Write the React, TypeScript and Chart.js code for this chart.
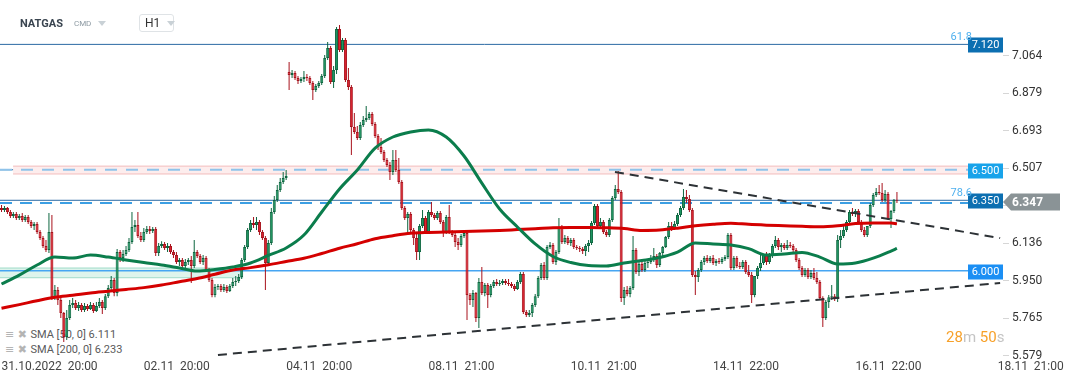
import React, { useEffect, useRef } from 'react';
import { Chart, registerables } from 'chart.js';

Chart.register(...registerables);

// ---- Hourly candles (NATGAS, H1) ----
const opens = [
  6.311, 6.301, 6.311, 6.291, 6.271, 6.281, 6.261, 6.271, 6.251, 6.266,
  6.242, 6.222, 6.232, 6.192, 6.162, 6.123, 6.103, 6.192, 5.870, 5.905,
  5.856, 5.791, 5.673, 5.767, 5.831, 5.841, 5.816, 5.831, 5.806, 5.826,
  5.811, 5.831, 5.801, 5.826, 5.846, 5.816, 5.875, 5.915, 5.955, 5.890,
  6.093, 6.063, 6.083, 6.103, 6.143, 6.217, 6.227, 6.172, 6.152, 6.192,
  6.207, 6.197, 6.207, 6.088, 6.123, 6.133, 6.113, 6.123, 6.093, 6.078,
  6.044, 6.054, 6.024, 6.044, 6.054, 6.024, 6.093, 6.073, 6.044, 6.063,
  6.004, 5.955, 5.880, 5.920, 5.925, 5.905, 5.920, 5.900, 5.925, 5.945,
  5.950, 5.970, 6.054, 6.118, 6.202, 6.237, 6.227, 6.242, 6.192, 6.162,
  6.039, 6.138, 6.291, 6.350, 6.400, 6.439, 6.459, 6.983, 6.969, 6.978,
  6.954, 6.939, 6.949, 6.959, 6.954, 6.929, 6.894, 6.914, 6.929, 6.964,
  7.053, 7.102, 6.934, 6.993, 7.196, 7.092, 7.142, 6.944, 6.909, 6.711,
  6.687, 6.657, 6.721, 6.746, 6.756, 6.776, 6.726, 6.667, 6.612, 6.588,
  6.548, 6.523, 6.489, 6.548, 6.499, 6.439, 6.311, 6.261, 6.281, 6.202,
  6.162, 6.093, 6.222, 6.261, 6.192, 6.291, 6.276, 6.261, 6.286, 6.242,
  6.192, 6.266, 6.192, 6.177, 6.143, 6.128, 6.172, 6.187, 5.880, 5.856,
  5.890, 5.767, 5.945, 5.890, 5.930, 5.880, 5.925, 5.945, 5.935, 5.940,
  5.950, 5.940, 5.935, 5.925, 5.910, 5.945, 5.984, 5.796, 5.782, 5.791,
  5.831, 5.875, 5.965, 6.029, 5.965, 6.118, 6.128, 6.044, 6.093, 6.217,
  6.143, 6.162, 6.138, 6.152, 6.118, 6.113, 6.108, 6.098, 6.123, 6.138,
  6.237, 6.321, 6.222, 6.242, 6.192, 6.177, 6.251, 6.360, 6.405, 6.390,
  5.866, 5.905, 5.885, 5.915, 6.103, 5.994, 6.034, 6.004, 6.039, 6.044,
  6.063, 6.073, 6.029, 6.088, 6.118, 6.167, 6.222, 6.212, 6.232, 6.276,
  6.311, 6.365, 6.355, 6.301, 5.979, 5.970, 6.004, 6.044, 6.063, 6.049,
  6.063, 6.039, 6.049, 6.044, 6.058, 6.068, 6.177, 6.014, 6.063, 6.024,
  6.019, 6.044, 5.994, 5.979, 5.880, 5.974, 6.014, 6.039, 6.083, 6.044,
  6.073, 6.123, 6.152, 6.118, 6.128, 6.113, 6.128, 6.123, 6.103, 6.054,
  6.014, 5.979, 6.004, 5.970, 5.989, 5.965, 5.945, 5.866, 5.767, 5.846,
  5.870, 5.875, 5.861, 6.152, 6.172, 6.202, 6.242, 6.291, 6.281, 6.296,
  6.242, 6.202, 6.177, 6.222, 6.326, 6.375, 6.390, 6.385, 6.350, 6.380,
  6.256, 6.296, 6.352,
];
const highs = [
  6.326, 6.321, 6.316, 6.301, 6.291, 6.291, 6.281, 6.286, 6.276, 6.276,
  6.251, 6.242, 6.242, 6.202, 6.172, 6.152, 6.286, 6.276, 5.930, 5.920,
  5.866, 5.796, 5.806, 5.856, 5.866, 5.856, 5.846, 5.841, 5.841, 5.836,
  5.846, 5.841, 5.846, 5.866, 5.856, 5.885, 5.930, 5.974, 5.965, 6.108,
  6.103, 6.103, 6.123, 6.162, 6.291, 6.251, 6.291, 6.192, 6.212, 6.222,
  6.222, 6.217, 6.217, 6.138, 6.147, 6.143, 6.138, 6.133, 6.103, 6.093,
  6.063, 6.063, 6.058, 6.063, 6.073, 6.152, 6.103, 6.083, 6.078, 6.073,
  6.014, 5.965, 5.935, 5.935, 5.935, 5.935, 5.930, 5.935, 5.965, 5.974,
  5.984, 6.063, 6.128, 6.212, 6.251, 6.266, 6.266, 6.251, 6.202, 6.172,
  6.152, 6.311, 6.370, 6.424, 6.459, 6.489, 6.499, 7.033, 6.993, 6.988,
  6.964, 6.959, 6.988, 6.973, 6.964, 6.939, 6.924, 6.939, 6.973, 7.067,
  7.132, 7.112, 7.013, 7.206, 7.216, 7.152, 7.152, 7.003, 6.919, 6.781,
  6.716, 6.736, 6.766, 6.815, 6.786, 6.786, 6.736, 6.677, 6.657, 6.598,
  6.558, 6.538, 6.598, 6.598, 6.558, 6.449, 6.321, 6.291, 6.291, 6.212,
  6.182, 6.232, 6.301, 6.271, 6.301, 6.340, 6.286, 6.296, 6.296, 6.251,
  6.276, 6.326, 6.202, 6.187, 6.162, 6.182, 6.197, 6.202, 5.890, 5.905,
  5.895, 5.965, 6.019, 5.940, 5.940, 5.935, 5.955, 5.960, 5.955, 5.960,
  5.960, 5.960, 5.945, 5.935, 5.955, 5.994, 5.994, 5.806, 5.806, 5.841,
  5.885, 5.974, 6.039, 6.044, 6.128, 6.143, 6.138, 6.103, 6.261, 6.227,
  6.177, 6.172, 6.162, 6.162, 6.128, 6.123, 6.118, 6.133, 6.152, 6.246,
  6.330, 6.330, 6.261, 6.251, 6.202, 6.261, 6.370, 6.424, 6.494, 6.400,
  5.920, 5.925, 5.925, 6.172, 6.113, 6.044, 6.044, 6.054, 6.058, 6.078,
  6.113, 6.083, 6.093, 6.123, 6.172, 6.242, 6.242, 6.246, 6.286, 6.321,
  6.405, 6.400, 6.375, 6.311, 5.999, 6.014, 6.054, 6.073, 6.078, 6.073,
  6.078, 6.058, 6.063, 6.068, 6.078, 6.187, 6.187, 6.073, 6.073, 6.044,
  6.054, 6.054, 6.029, 5.994, 5.974, 6.024, 6.088, 6.083, 6.093, 6.088,
  6.133, 6.172, 6.162, 6.138, 6.138, 6.152, 6.143, 6.133, 6.113, 6.063,
  6.024, 6.014, 6.014, 6.004, 6.014, 5.994, 5.955, 5.875, 5.856, 5.880,
  5.930, 5.885, 6.177, 6.202, 6.222, 6.251, 6.301, 6.311, 6.306, 6.306,
  6.251, 6.217, 6.222, 6.335, 6.385, 6.410, 6.424, 6.434, 6.400, 6.390,
  6.301, 6.355, 6.390,
];
const lows = [
  6.291, 6.291, 6.281, 6.261, 6.261, 6.251, 6.251, 6.242, 6.242, 6.232,
  6.212, 6.202, 6.182, 6.152, 6.113, 6.093, 6.088, 5.856, 5.856, 5.831,
  5.767, 5.648, 5.658, 5.757, 5.816, 5.806, 5.801, 5.796, 5.796, 5.801,
  5.806, 5.791, 5.796, 5.816, 5.786, 5.806, 5.866, 5.905, 5.875, 5.875,
  6.044, 6.044, 6.073, 6.093, 6.133, 6.192, 6.162, 6.143, 6.143, 6.182,
  6.182, 6.187, 6.073, 6.073, 6.113, 6.103, 6.093, 6.083, 6.063, 6.034,
  6.024, 6.014, 6.014, 6.029, 5.940, 6.014, 6.063, 6.034, 6.029, 5.994,
  5.945, 5.870, 5.870, 5.905, 5.895, 5.895, 5.890, 5.895, 5.915, 5.925,
  5.940, 5.960, 6.044, 6.108, 6.192, 6.212, 6.202, 6.177, 6.152, 5.905,
  6.024, 6.128, 6.281, 6.340, 6.390, 6.429, 6.449, 6.894, 6.954, 6.944,
  6.924, 6.929, 6.934, 6.939, 6.919, 6.845, 6.884, 6.904, 6.919, 6.954,
  7.043, 6.924, 6.904, 6.973, 7.082, 7.082, 6.934, 6.894, 6.573, 6.677,
  6.647, 6.647, 6.711, 6.736, 6.746, 6.716, 6.657, 6.598, 6.578, 6.538,
  6.514, 6.449, 6.474, 6.489, 6.429, 6.301, 6.251, 6.187, 6.192, 6.128,
  6.054, 6.054, 6.212, 6.182, 6.182, 6.266, 6.251, 6.251, 6.232, 6.167,
  6.182, 6.182, 6.167, 6.118, 6.103, 6.118, 6.162, 5.757, 5.831, 5.821,
  5.747, 5.717, 5.880, 5.875, 5.816, 5.870, 5.915, 5.925, 5.925, 5.930,
  5.930, 5.925, 5.915, 5.900, 5.905, 5.935, 5.786, 5.772, 5.772, 5.772,
  5.821, 5.866, 5.955, 5.955, 5.955, 6.108, 6.034, 6.029, 6.083, 6.133,
  6.133, 6.128, 6.123, 6.108, 6.103, 6.093, 6.083, 6.073, 6.093, 6.128,
  6.227, 6.212, 6.212, 6.182, 6.167, 6.167, 6.242, 6.350, 6.380, 5.846,
  5.831, 5.875, 5.870, 5.905, 5.984, 5.974, 5.994, 5.994, 6.014, 6.034,
  6.044, 6.014, 6.019, 6.063, 6.113, 6.157, 6.197, 6.202, 6.222, 6.266,
  6.301, 6.335, 6.291, 5.970, 5.880, 5.945, 5.994, 6.029, 6.039, 6.039,
  6.029, 6.024, 6.034, 6.034, 6.049, 6.058, 6.004, 6.004, 6.014, 6.009,
  6.009, 5.984, 5.970, 5.841, 5.870, 5.960, 5.999, 6.029, 6.029, 6.034,
  6.063, 6.113, 6.103, 6.093, 6.103, 6.103, 6.113, 6.093, 6.044, 6.004,
  5.970, 5.970, 5.960, 5.960, 5.955, 5.935, 5.856, 5.722, 5.757, 5.816,
  5.856, 5.851, 5.846, 6.113, 6.162, 6.192, 6.232, 6.271, 6.266, 6.232,
  6.192, 6.167, 6.167, 6.212, 6.316, 6.365, 6.375, 6.340, 6.340, 6.251,
  6.212, 6.286, 6.335,
];
const closes = [
  6.301, 6.311, 6.291, 6.271, 6.281, 6.261, 6.271, 6.251, 6.266, 6.242,
  6.222, 6.232, 6.192, 6.162, 6.123, 6.103, 6.192, 5.870, 5.905, 5.856,
  5.791, 5.673, 5.767, 5.831, 5.841, 5.816, 5.831, 5.806, 5.826, 5.811,
  5.831, 5.801, 5.826, 5.846, 5.816, 5.875, 5.915, 5.955, 5.890, 6.093,
  6.063, 6.083, 6.103, 6.143, 6.217, 6.227, 6.172, 6.152, 6.192, 6.207,
  6.197, 6.207, 6.088, 6.123, 6.133, 6.113, 6.123, 6.093, 6.078, 6.044,
  6.054, 6.024, 6.044, 6.054, 6.024, 6.093, 6.073, 6.044, 6.063, 6.004,
  5.955, 5.880, 5.920, 5.925, 5.905, 5.920, 5.900, 5.925, 5.945, 5.950,
  5.970, 6.054, 6.118, 6.202, 6.237, 6.227, 6.242, 6.192, 6.162, 6.039,
  6.138, 6.291, 6.350, 6.400, 6.439, 6.459, 6.469, 6.969, 6.978, 6.954,
  6.939, 6.949, 6.959, 6.954, 6.929, 6.894, 6.914, 6.929, 6.964, 7.053,
  7.102, 6.934, 6.993, 7.196, 7.092, 7.142, 6.944, 6.909, 6.711, 6.687,
  6.657, 6.721, 6.746, 6.756, 6.776, 6.726, 6.667, 6.612, 6.588, 6.548,
  6.523, 6.489, 6.548, 6.499, 6.439, 6.311, 6.261, 6.281, 6.202, 6.162,
  6.093, 6.222, 6.261, 6.192, 6.291, 6.276, 6.261, 6.286, 6.242, 6.192,
  6.266, 6.192, 6.177, 6.143, 6.128, 6.172, 6.187, 5.880, 5.856, 5.890,
  5.767, 5.945, 5.890, 5.930, 5.880, 5.925, 5.945, 5.935, 5.940, 5.950,
  5.940, 5.935, 5.925, 5.910, 5.945, 5.984, 5.796, 5.782, 5.791, 5.831,
  5.875, 5.965, 6.029, 5.965, 6.118, 6.128, 6.044, 6.093, 6.217, 6.143,
  6.162, 6.138, 6.152, 6.118, 6.113, 6.108, 6.098, 6.123, 6.138, 6.237,
  6.321, 6.222, 6.242, 6.192, 6.177, 6.251, 6.360, 6.405, 6.390, 5.866,
  5.905, 5.885, 5.915, 6.103, 5.994, 6.034, 6.004, 6.039, 6.044, 6.063,
  6.073, 6.029, 6.088, 6.118, 6.167, 6.222, 6.212, 6.232, 6.276, 6.311,
  6.365, 6.355, 6.301, 5.979, 5.970, 6.004, 6.044, 6.063, 6.049, 6.063,
  6.039, 6.049, 6.044, 6.058, 6.068, 6.177, 6.014, 6.063, 6.024, 6.019,
  6.044, 5.994, 5.979, 5.880, 5.974, 6.014, 6.039, 6.083, 6.044, 6.073,
  6.123, 6.152, 6.118, 6.128, 6.113, 6.128, 6.123, 6.103, 6.054, 6.014,
  5.979, 6.004, 5.970, 5.989, 5.965, 5.945, 5.866, 5.767, 5.846, 5.870,
  5.875, 5.861, 6.152, 6.172, 6.202, 6.242, 6.291, 6.281, 6.296, 6.242,
  6.202, 6.177, 6.222, 6.326, 6.375, 6.390, 6.385, 6.350, 6.380, 6.256,
  6.296, 6.352, 6.347,
];

// ---- Moving averages (sampled every 6 candles) ----
const smaIdx = [
  0, 6, 12, 18, 24, 30, 36, 42, 48, 54, 60, 66, 72, 78, 84, 90, 96, 102, 108, 114,
  120, 126, 132, 138, 144, 150, 156, 162, 168, 174, 180, 186, 192, 198, 204, 210,
  216, 222, 228, 234, 240, 246, 252, 258, 264, 270, 276, 282, 288, 294, 300, 302,
];
const sma50 = [
  5.935, 5.979, 6.029, 6.068, 6.063, 6.078, 6.068, 6.054, 6.041, 6.029,
  6.014, 5.999, 6.007, 6.019, 6.039, 6.076, 6.113, 6.177, 6.291, 6.405,
  6.499, 6.607, 6.662, 6.687, 6.697, 6.662, 6.568, 6.434, 6.306, 6.217,
  6.133, 6.071, 6.041, 6.026, 6.024, 6.039, 6.051, 6.066, 6.093, 6.138,
  6.133, 6.128, 6.110, 6.078, 6.083, 6.091, 6.068, 6.034, 6.039, 6.063,
  6.098, 6.111,
];
const sma200 = [
  5.815, 5.833, 5.852, 5.869, 5.879, 5.890, 5.899, 5.908, 5.917, 5.930,
  5.946, 5.962, 5.983, 6.004, 6.016, 6.030, 6.046, 6.062, 6.086, 6.112,
  6.134, 6.159, 6.174, 6.186, 6.190, 6.192, 6.195, 6.197, 6.200, 6.204,
  6.208, 6.213, 6.215, 6.215, 6.213, 6.209, 6.200, 6.202, 6.211, 6.223,
  6.231, 6.236, 6.230, 6.226, 6.223, 6.220, 6.218, 6.223, 6.234, 6.237,
  6.237, 6.233,
];

// ---- Axes ----
const xTickIdx = [0, 48, 96, 144, 192, 240, 288, 336];
const xTickLabels = [
  '31.10.2022  20:00', '02.11  20:00', '04.11  20:00', '08.11  21:00',
  '10.11  21:00', '14.11  22:00', '16.11  22:00', '18.11  21:00',
];
const yTickValues = [5.579, 5.765, 5.950, 6.136, 6.321, 6.507, 6.693, 6.879, 7.064];

// ---- Drawing objects (price levels, zones, trend lines) ----
const levelValues = [7.12, 6.5, 6.35, 6.0];
const fibTexts = ['61.8', '', '78.6', ''];
const resistZone = [6.479, 6.518];
const supportZone = [5.966, 6.014];
const upperTrend = [[206.9, 6.489], [336.8, 6.162]];
const lowerTrend = [[73.0, 5.584], [336.8, 5.940]];
const currentPrice = closes[closes.length - 1];

const X_MIN = -0.506;
const X_MAX = 337.77;
const LEVEL_END = 326.3;

const hline = (y: number, x0: number, x1: number) => [{ x: x0, y }, { x: x1, y }];

const labelPlugin = {
  id: 'levelLabels',
  afterDraw(chart: any) {
    const { ctx, chartArea, scales } = chart;
    const y = scales.y;
    const right = chartArea.right;
    const boxColors = ['#0c6fb1', '#18a3ea', '#0c6fb1', '#1b8ff4'];
    ctx.save();
    levelValues.forEach((v, i) => {
      const py = Math.round(y.getPixelForValue(v)) + 1;
      ctx.fillStyle = boxColors[i];
      ctx.fillRect(right - 35, py - 7.5, 35, 15);
      ctx.fillStyle = '#ffffff';
      ctx.font = '11px Roboto';
      ctx.textAlign = 'center';
      ctx.textBaseline = 'middle';
      ctx.fillText(v.toFixed(3), right - 17.5, py + 0.5);
      if (fibTexts[i]) {
        ctx.fillStyle = '#4fb0ee';
        ctx.textAlign = 'right';
        ctx.textBaseline = 'alphabetic';
        ctx.fillText(fibTexts[i], right - 31, py - 5);
      }
    });
    const pp = Math.round(y.getPixelForValue(currentPrice)) + 1;
    ctx.fillStyle = '#8a9396';
    ctx.beginPath();
    ctx.moveTo(right, pp);
    ctx.lineTo(right + 8, pp - 8.5);
    ctx.lineTo(right + 57, pp - 8.5);
    ctx.lineTo(right + 57, pp + 8.5);
    ctx.lineTo(right + 8, pp + 8.5);
    ctx.closePath();
    ctx.fill();
    ctx.fillStyle = '#ffffff';
    ctx.font = 'bold 12px Roboto';
    ctx.textAlign = 'left';
    ctx.textBaseline = 'middle';
    ctx.fillText(currentPrice.toFixed(3), right + 9, pp + 0.5);
    ctx.restore();
  },
};

export default function App() {
  const ref = useRef<HTMLCanvasElement | null>(null);

  useEffect(() => {
    document.body.style.margin = '0';
    const canvas = ref.current;
    if (!canvas) return;

    const up = closes.map((c, i) => c >= opens[i]);
    const bodyFill = up.map((u) => (u ? '#1f9863' : '#dd2430'));
    const bodyEdge = up.map((u) => (u ? '#0d6640' : '#a8121c'));

    const line = (data: any[], color: string, width: number, extra: any = {}) => ({
      type: 'line',
      data,
      borderColor: color,
      borderWidth: width,
      pointRadius: 0,
      fill: false,
      order: 15,
      ...extra,
    });

    const datasets: any[] = [
      line(hline(resistZone[0], 3.9, LEVEL_END), '#f2bcbc', 1, { order: 20 }),
      line(hline(resistZone[1], 3.9, LEVEL_END), '#f2bcbc', 1, {
        order: 20,
        fill: '-1',
        backgroundColor: 'rgba(250,214,214,0.45)',
      }),
      line(hline(supportZone[0], X_MIN, 81.5), '#9fdcc9', 1, { order: 20 }),
      line(hline(supportZone[1], X_MIN, 81.5), '#9fdcc9', 1, {
        order: 20,
        fill: '-1',
        backgroundColor: 'rgba(200,237,224,0.6)',
      }),
      line(hline(levelValues[0], X_MIN, LEVEL_END), '#2b69a3', 1),
      line(hline(levelValues[1], X_MIN, LEVEL_END), '#8fc3ea', 2, { borderDash: [12, 9] }),
      line(hline(levelValues[1], X_MIN, 3.9), '#2b69a3', 1),
      line(hline(levelValues[2] - 0.001, X_MIN, LEVEL_END), '#2b69a3', 1),
      line(hline(levelValues[2] - 0.014, X_MIN, LEVEL_END), '#3d9fe3', 2, { borderDash: [12, 8] }),
      line(hline(levelValues[3], X_MIN, LEVEL_END), '#46a5f2', 1.5),
      {
        type: 'bar',
        data: closes.map((_, i) => ({ x: i, y: [lows[i], highs[i]] })),
        backgroundColor: bodyEdge,
        borderWidth: 0,
        barThickness: 1,
        grouped: false,
        inflateAmount: 0,
        order: 10,
      },
      {
        type: 'bar',
        data: closes.map((c, i) => ({ x: i, y: [opens[i], c] })),
        backgroundColor: bodyFill,
        borderColor: bodyEdge,
        borderWidth: 1,
        borderSkipped: false,
        barThickness: 3,
        minBarLength: 1,
        grouped: false,
        inflateAmount: 0,
        order: 9,
      },
      line(smaIdx.map((x, k) => ({ x, y: sma200[k] })), '#d40000', 3, {
        order: 5,
        cubicInterpolationMode: 'monotone',
      }),
      line(smaIdx.map((x, k) => ({ x, y: sma50[k] })), '#0b7d4c', 3, {
        order: 4,
        cubicInterpolationMode: 'monotone',
      }),
      line(upperTrend.map(([x, y]) => ({ x, y })), '#2d3236', 2, { borderDash: [9, 6], order: 3 }),
      line(lowerTrend.map(([x, y]) => ({ x, y })), '#2d3236', 2, { borderDash: [9, 6], order: 3 }),
    ];

    const chart = new Chart(canvas, {
      type: 'bar',
      data: { datasets },
      plugins: [labelPlugin],
      options: {
        animation: false,
        responsive: false,
        events: [],
        layout: { padding: 0 },
        plugins: { legend: { display: false }, tooltip: { enabled: false } },
        scales: {
          x: {
            type: 'linear',
            min: X_MIN,
            max: X_MAX,
            offset: false,
            grid: { display: false, drawTicks: false },
            border: { display: false },
            afterBuildTicks: (scale: any) => {
              scale.ticks = xTickIdx.map((v) => ({ value: v }));
            },
            afterFit: (scale: any) => {
              scale.height = 24;
              scale.paddingLeft = 0;
              scale.paddingRight = 0;
            },
            ticks: {
              align: 'start',
              padding: 2,
              maxRotation: 0,
              minRotation: 0,
              autoSkip: false,
              color: '#444',
              font: { family: 'Roboto', size: 12 },
              callback: (_v: any, i: number) => xTickLabels[i],
            },
          },
          y: {
            type: 'linear',
            position: 'right',
            min: 5.569,
            max: 7.3395,
            grid: { drawOnChartArea: false, drawTicks: true, tickLength: 6, color: '#d6d6d6' },
            border: { display: false },
            afterBuildTicks: (scale: any) => {
              scale.ticks = yTickValues.map((v) => ({ value: v }));
            },
            afterFit: (scale: any) => {
              scale.width = 69;
              scale.paddingTop = 0;
              scale.paddingBottom = 0;
            },
            ticks: {
              padding: 3,
              color: '#333',
              font: { family: 'Roboto', size: 12 },
              callback: (v: any) => Number(v).toFixed(3),
            },
          },
        },
      } as any,
    } as any);

    return () => chart.destroy();
  }, []);

  const tri = (color: string) => ({
    width: 0,
    height: 0,
    borderLeft: '4px solid transparent',
    borderRight: '4px solid transparent',
    borderTop: `5px solid ${color}`,
  });

  return (
    <div
      style={{
        position: 'relative',
        width: 1072,
        height: 382,
        overflow: 'hidden',
        background: '#ffffff',
        fontFamily: 'Roboto, sans-serif',
      }}
    >
      {/* legend (behind the canvas, like the original) */}
      <div style={{ position: 'absolute', left: 5, top: 327, fontSize: 11, color: '#5a5a5a', lineHeight: '15px', zIndex: 0 }}>
        <div style={{ whiteSpace: 'pre' }}>
          <span style={{ color: '#b4b4b4', fontFamily: 'DejaVu Sans', fontSize: 11 }}>≡ ✖ </span>SMA [50, 0] 6.111
        </div>
        <div style={{ whiteSpace: 'pre' }}>
          <span style={{ color: '#b4b4b4', fontFamily: 'DejaVu Sans', fontSize: 11 }}>≡ ✖ </span>SMA [200, 0] 6.233
        </div>
      </div>

      <canvas ref={ref} width={1072} height={382} style={{ position: 'absolute', left: 0, top: 0, zIndex: 1 }} />

      {/* header */}
      <div style={{ position: 'absolute', left: 20, top: 17, zIndex: 2, display: 'flex', alignItems: 'center' }}>
        <span style={{ fontSize: 11, fontWeight: 700, color: '#3a4550', lineHeight: '13px' }}>NATGAS</span>
        <span style={{ fontSize: 8, color: '#8d9aa3', marginLeft: 11, lineHeight: '13px' }}>CMD</span>
        <span style={{ ...tri('#c9d1d6'), marginLeft: 7 }} />
      </div>
      <div
        style={{
          position: 'absolute',
          left: 139,
          top: 14,
          width: 33,
          height: 16,
          border: '1px solid #dfe3e6',
          borderRadius: 3,
          zIndex: 2,
          display: 'flex',
          alignItems: 'center',
        }}
      >
        <span style={{ fontSize: 12, color: '#333', marginLeft: 5 }}>H1</span>
        <span style={{ ...tri('#c9d1d6'), marginLeft: 7 }} />
      </div>

      {/* candle countdown */}
      <div style={{ position: 'absolute', left: 946, top: 328, zIndex: 2, fontSize: 15, lineHeight: '18px', whiteSpace: 'pre' }}>
        <span style={{ color: '#f7a12a' }}>28</span>
        <span style={{ color: '#c4c4c4' }}>m </span>
        <span style={{ color: '#f7a12a' }}>50</span>
        <span style={{ color: '#c4c4c4' }}>s</span>
      </div>
    </div>
  );
}
